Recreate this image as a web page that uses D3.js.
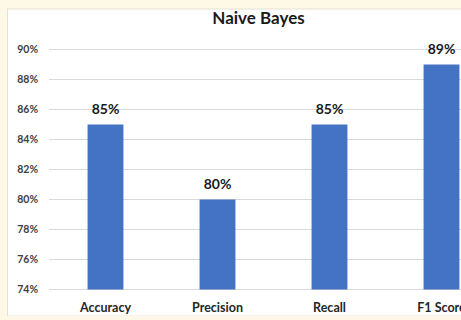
<!DOCTYPE html>
<html>
<head>
<meta charset="utf-8">
<script src="https://cdn.jsdelivr.net/npm/d3@7"></script>
<style>
  html, body { margin: 0; padding: 0; background: #fef9e7; }
  svg { display: block; }
  text { font-family: Lato, "Open Sans", sans-serif; font-weight: bold; }
</style>
</head>
<body>
<svg width="461" height="320"></svg>
<script>
const categories = ['Accuracy', 'Precision', 'Recall', 'F1 Score'];
const scores = [85, 80, 85, 89];
const yTicks = [74, 76, 78, 80, 82, 84, 86, 88, 90];
const title = 'Naive Bayes';

const svg = d3.select('svg');

// white chart panel (cut off at the right like the picture)
svg.append('rect')
    .attr('x', 7.5)
    .attr('y', 9)
    .attr('width', 520)
    .attr('height', 307)
    .attr('fill', '#ffffff')
    .attr('stroke', '#e6e2d2')
    .attr('stroke-width', 1);

const x = d3.scaleBand()
    .domain(categories)
    .range([49.5, 497.5])
    .paddingInner(0.68)
    .paddingOuter(0.34);

const y = d3.scaleLinear()
    .domain([74, 90])
    .range([289.5, 49.5]);

// gridlines
svg.append('g')
    .selectAll('line')
    .data(yTicks)
    .enter()
    .append('line')
    .attr('x1', 49)
    .attr('x2', 520)
    .attr('y1', d => y(d))
    .attr('y2', d => y(d))
    .attr('stroke', '#d9d9d9')
    .attr('stroke-width', 1);

// y axis labels
const yAxis = svg.append('g')
    .attr('transform', 'translate(38,0)')
    .call(d3.axisLeft(y).tickValues(yTicks).tickFormat(d => d + '%').tickSize(0).tickPadding(0));
yAxis.select('.domain').remove();
yAxis.selectAll('text')
    .attr('fill', '#404040')
    .style('font-size', '10.5px');

// bars
svg.append('g')
    .selectAll('rect')
    .data(scores)
    .enter()
    .append('rect')
    .attr('x', (d, i) => x(categories[i]))
    .attr('y', d => y(d))
    .attr('width', x.bandwidth())
    .attr('height', d => y(74) - y(d))
    .attr('fill', '#4472c4');

// value labels
svg.append('g')
    .selectAll('text')
    .data(scores)
    .enter()
    .append('text')
    .attr('x', (d, i) => x(categories[i]) + x.bandwidth() / 2)
    .attr('y', d => y(d) - 11)
    .attr('text-anchor', 'middle')
    .attr('fill', '#1a1a1a')
    .style('font-size', '14px')
    .text(d => d + '%');

// category labels
const xAxis = svg.append('g')
    .attr('transform', 'translate(0,303)')
    .call(d3.axisBottom(x).tickSize(0).tickPadding(0));
xAxis.select('.domain').remove();
xAxis.selectAll('text')
    .attr('fill', '#262626')
    .style('font-size', '12.5px');

svg.append('text')
    .attr('x', 258.5)
    .attr('y', 24)
    .attr('text-anchor', 'middle')
    .attr('fill', '#1a1a1a')
    .style('font-size', '17px')
    .text(title);

// cream strip at the bottom
svg.append('rect')
    .attr('x', 0)
    .attr('y', 316)
    .attr('width', 461)
    .attr('height', 4)
    .attr('fill', '#fef9e7');
</script>
</body>
</html>
